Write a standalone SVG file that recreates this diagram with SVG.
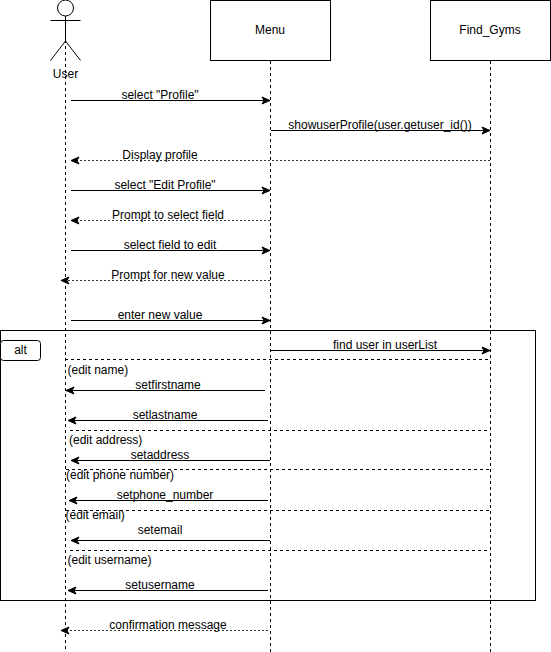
<svg xmlns="http://www.w3.org/2000/svg" width="551" height="652" viewBox="0 0 551 652">
<style>
text{font-family:"Liberation Sans",Arial,sans-serif;font-size:12px;fill:#000;text-anchor:middle}
.l{text-anchor:start}
.box{fill:#fff;stroke:#000;stroke-width:1}
.life{fill:none;stroke:#000;stroke-width:1;stroke-dasharray:3 3}
.sep{fill:none;stroke:#000;stroke-width:1;stroke-dasharray:3 3}
.msg{fill:none;stroke:#000;stroke-width:1;marker-end:url(#a)}
.ret{fill:none;stroke:#000;stroke-width:1;stroke-dasharray:2 2;stroke-opacity:.8;marker-end:url(#a)}
.s{fill:none;stroke:#000;stroke-width:1}
</style>
<defs>
<marker id="a" markerUnits="userSpaceOnUse" markerWidth="12" markerHeight="12" refX="9" refY="5" orient="auto"><path d="M1 1.5L9 5L1 8.5L3 5Z" fill="#000" stroke="#000" stroke-width="1" stroke-linejoin="miter"/></marker>
</defs>
<g id="alt-frame"><rect x="0.5" y="330.5" width="535" height="270" fill="none" stroke="#000"/></g>
<g id="lifelines">
<path class="life" d="M65.5 40V652"/>
<path class="life" d="M270.5 61V652"/>
<path class="life" d="M490.5 61V652"/>
</g>
<g id="node-user">
<circle class="s" cx="65.5" cy="8" r="8"/>
<path class="s" d="M65.5 16V41M50.5 20.5H80.5M65.5 41L50.5 60.5M65.5 41L80.5 60.5"/>
<text x="65.5" y="78">User</text>
</g>
<g id="node-menu"><rect class="box" x="210.5" y="0.5" width="120" height="60"/><text x="270" y="34">Menu</text></g>
<g id="node-find-gyms"><rect class="box" x="430.5" y="0.5" width="120" height="60"/><text x="490" y="34">Find_Gyms</text></g>
<g id="alt-label"><rect class="box" x="0.5" y="340.5" width="40" height="20" rx="3"/><text x="20.5" y="354">alt</text></g>
<g id="separators">
<path class="sep" d="M65 359.5H491"/>
<path class="sep" d="M70 430.5H490"/>
<path class="sep" d="M66 469.5H490"/>
<path class="sep" d="M66 510.5H490"/>
<path class="sep" d="M70 550.5H490"/>
</g>
<g id="connectors">
<path class="msg" d="M71 100.5H270"/>
<path class="msg" d="M271 130.5H490"/>
<path class="ret" d="M490 160.5H71"/>
<path class="msg" d="M71 190.5H270"/>
<path class="ret" d="M270 220.5H71"/>
<path class="msg" d="M71 250.5H270"/>
<path class="ret" d="M270 280.5H61"/>
<path class="msg" d="M71 320.5H270"/>
<path class="msg" d="M271 350.5H490"/>
<path class="msg" d="M265 390.5H66"/>
<path class="msg" d="M268 420.5H68"/>
<path class="msg" d="M270 460.5H71"/>
<path class="msg" d="M268 500.5H69"/>
<path class="msg" d="M270 540.5H71"/>
<path class="msg" d="M268 590.5H68"/>
<path class="ret" d="M268 630.5H61"/>
</g>
<g id="labels">
<text x="160" y="99">select "Profile"</text>
<text x="380" y="129">showuserProfile(user.getuser_id())</text>
<text x="160" y="159">Display profile</text>
<text x="165" y="189">select "Edit Profile"</text>
<text x="168" y="219">Prompt to select field</text>
<text x="170" y="249">select field to edit</text>
<text x="168" y="279">Prompt for new value</text>
<text x="160" y="319">enter new value</text>
<text x="385" y="349">find user in userList</text>
<text class="l" x="67.5" y="374">(edit name)</text>
<text x="168" y="389">setfirstname</text>
<text x="165" y="419">setlastname</text>
<text class="l" x="69" y="444">(edit address)</text>
<text x="160" y="459">setaddress</text>
<text class="l" x="66" y="479">(edit phone number)</text>
<text x="165" y="499">setphone_number</text>
<text class="l" x="65.5" y="519">(edit email)</text>
<text x="160" y="534">setemail</text>
<text class="l" x="67.5" y="564">(edit username)</text>
<text x="160" y="589">setusername</text>
<text x="168" y="629">confirmation message</text>
</g>
</svg>
